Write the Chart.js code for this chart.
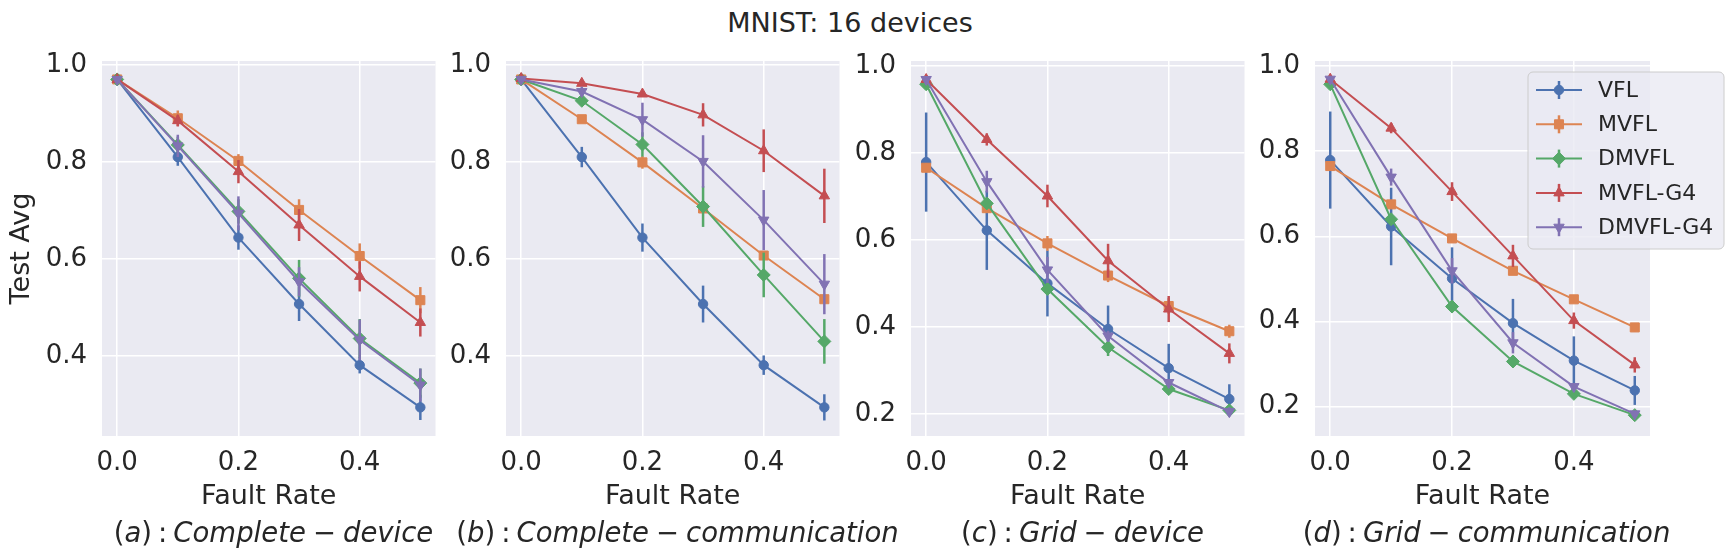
<!DOCTYPE html>
<html>
<head>
<meta charset="utf-8">
<script src="https://cdn.jsdelivr.net/npm/chart.js@4.4.0/dist/chart.umd.min.js"></script>
<style>
  body { margin: 0; background: #fff; width: 1733px; height: 559px; position: relative; overflow: hidden;
         font-family: 'DejaVu Sans'; color: #262626; }
  canvas { position: absolute; top: 0; }
  .txt { position: absolute; white-space: nowrap; transform: translateX(-50%); font-size: 27px; line-height: 27px; }
  .cap { font-size: 27.5px; }
  .txt i { font-style: italic; }
  .colon { margin: 0 6px 0 6px; }
  .minus { margin: 0 7px; }
</style>
</head>
<body>
<div class="txt" style="left:850px; top:9px">MNIST: 16 devices</div>

<script>
const faultRates = [0, 0.1, 0.2, 0.3, 0.4, 0.5];
const xTicks = [0, 0.2, 0.4];
const yTicksAB = [0.4, 0.6, 0.8, 1.0];
const yTicksCD = [0.2, 0.4, 0.6, 0.8, 1.0];
const seriesNames = ['VFL', 'MVFL', 'DMVFL', 'MVFL-G4', 'DMVFL-G4'];
const captionLetters = ['a', 'b', 'c', 'd'];
const captionTopology = ['Complete', 'Complete', 'Grid', 'Grid'];
const captionFault = ['device', 'communication', 'device', 'communication'];

// (a) Complete - device
const aVFL      = [0.970, 0.810, 0.644, 0.507, 0.381, 0.294];
const aVFLErr   = [0.005, 0.018, 0.025, 0.035, 0.017, 0.026];
const aMVFL     = [0.970, 0.890, 0.802, 0.701, 0.606, 0.515];
const aMVFLErr  = [0.004, 0.016, 0.014, 0.022, 0.026, 0.027];
const aDMVFL    = [0.970, 0.835, 0.698, 0.560, 0.436, 0.344];
const aDMVFLErr = [0.004, 0.017, 0.025, 0.038, 0.040, 0.030];
const aG4       = [0.970, 0.885, 0.780, 0.670, 0.564, 0.469];
const aG4Err    = [0.004, 0.012, 0.024, 0.033, 0.031, 0.029];
const aDG4      = [0.970, 0.833, 0.694, 0.553, 0.433, 0.340];
const aDG4Err   = [0.004, 0.023, 0.035, 0.030, 0.042, 0.034];

// (b) Complete - communication
const bVFL      = [0.970, 0.810, 0.644, 0.507, 0.381, 0.294];
const bVFLErr   = [0.005, 0.021, 0.029, 0.038, 0.020, 0.027];
const bMVFL     = [0.970, 0.888, 0.799, 0.704, 0.607, 0.517];
const bMVFLErr  = [0.004, 0.006, 0.013, 0.008, 0.008, 0.008];
const bDMVFL    = [0.970, 0.926, 0.836, 0.708, 0.567, 0.430];
const bDMVFLErr = [0.004, 0.008, 0.025, 0.042, 0.046, 0.046];
const bG4       = [0.972, 0.962, 0.940, 0.897, 0.823, 0.730];
const bG4Err    = [0.003, 0.004, 0.006, 0.024, 0.044, 0.056];
const bDG4      = [0.970, 0.945, 0.887, 0.801, 0.680, 0.548];
const bDG4Err   = [0.004, 0.010, 0.035, 0.054, 0.062, 0.062];

// (c) Grid - device
const cVFL      = [0.779, 0.622, 0.500, 0.395, 0.305, 0.234];
const cVFLErr   = [0.114, 0.091, 0.076, 0.054, 0.056, 0.034];
const cMVFL     = [0.766, 0.673, 0.592, 0.518, 0.448, 0.390];
const cMVFLErr  = [0.010, 0.010, 0.017, 0.015, 0.018, 0.015];
const cDMVFL    = [0.958, 0.684, 0.487, 0.353, 0.257, 0.208];
const cDMVFLErr = [0.006, 0.012, 0.012, 0.020, 0.008, 0.008];
const cG4       = [0.969, 0.831, 0.701, 0.552, 0.441, 0.339];
const cG4Err    = [0.006, 0.014, 0.026, 0.039, 0.030, 0.023];
const cDG4      = [0.969, 0.734, 0.531, 0.379, 0.272, 0.205];
const cDG4Err   = [0.006, 0.025, 0.030, 0.012, 0.008, 0.010];

// (d) Grid - communication
const dVFL      = [0.779, 0.623, 0.501, 0.396, 0.308, 0.238];
const dVFLErr   = [0.114, 0.091, 0.073, 0.057, 0.057, 0.034];
const dMVFL     = [0.765, 0.675, 0.595, 0.519, 0.452, 0.386];
const dMVFLErr  = [0.010, 0.008, 0.010, 0.008, 0.008, 0.010];
const dDMVFL    = [0.957, 0.640, 0.435, 0.306, 0.230, 0.180];
const dDMVFLErr = [0.006, 0.010, 0.008, 0.006, 0.006, 0.004];
const dG4       = [0.969, 0.854, 0.705, 0.554, 0.402, 0.298];
const dG4Err    = [0.006, 0.012, 0.022, 0.026, 0.019, 0.018];
const dDG4      = [0.969, 0.739, 0.519, 0.350, 0.247, 0.183];
const dDG4Err   = [0.006, 0.020, 0.030, 0.025, 0.008, 0.006];

// look
const colors = ['#4C72B0', '#DD8452', '#55A868', '#C44E52', '#8172B3'];
const markers = [
  { style: 'circle', r: 4.7, rot: 0 },
  { style: 'rect', r: 6.4, rot: 0 },
  { style: 'rectRot', r: 6.5, rot: 0 },
  { style: 'triangle', r: 6, rot: 0 },
  { style: 'triangle', r: 6, rot: 180 },
];
const ink = '#262626';
const W = 1733, H = 559;
const plotTop = 61, plotBottom = 436;
const plotLefts = [102, 506, 911, 1315];
const plotW = 335;

const panels = [
  { means: [aVFL, aMVFL, aDMVFL, aG4, aDG4], errs: [aVFLErr, aMVFLErr, aDMVFLErr, aG4Err, aDG4Err], yMin: 0.235, yMax: 1.008, yTicks: yTicksAB },
  { means: [bVFL, bMVFL, bDMVFL, bG4, bDG4], errs: [bVFLErr, bMVFLErr, bDMVFLErr, bG4Err, bDG4Err], yMin: 0.235, yMax: 1.008, yTicks: yTicksAB },
  { means: [cVFL, cMVFL, cDMVFL, cG4, cDG4], errs: [cVFLErr, cMVFLErr, cDMVFLErr, cG4Err, cDG4Err], yMin: 0.149, yMax: 1.0115, yTicks: yTicksCD },
  { means: [dVFL, dMVFL, dDMVFL, dG4, dDG4], errs: [dVFLErr, dMVFLErr, dDMVFLErr, dG4Err, dDG4Err], yMin: 0.131, yMax: 1.0117, yTicks: yTicksCD },
];

const panelBg = {
  id: 'panelBg',
  beforeDraw(chart) {
    const a = chart.chartArea, ctx = chart.ctx;
    ctx.save();
    ctx.fillStyle = '#EAEAF2';
    ctx.fillRect(a.left, a.top, a.right - a.left, a.bottom - a.top);
    ctx.restore();
  }
};

// error bars go under their own line but over earlier series
const errorBars = {
  id: 'errorBars',
  beforeDatasetDraw(chart, args) {
    const ds = chart.data.datasets[args.index];
    const ys = chart.scales.y, ctx = chart.ctx;
    ctx.save();
    ctx.strokeStyle = ds.borderColor;
    ctx.lineWidth = 2.5;
    ds.data.forEach((p, j) => {
      const x = args.meta.data[j].x;
      ctx.beginPath();
      ctx.moveTo(x, ys.getPixelForValue(p.y - ds.errs[j]));
      ctx.lineTo(x, ys.getPixelForValue(p.y + ds.errs[j]));
      ctx.stroke();
    });
    ctx.restore();
  }
};

function legendPlugin(offsetX) {
  return {
    id: 'legendBox',
    afterDraw(chart) {
      const ctx = chart.ctx;
      const bx = 1528 - offsetX, by = 72, bw = 196, bh = 177;
      ctx.save();
      ctx.beginPath();
      ctx.roundRect(bx, by, bw, bh, 5);
      ctx.fillStyle = 'rgba(234,234,242,0.8)';
      ctx.fill();
      ctx.strokeStyle = '#cccccc';
      ctx.lineWidth = 1;
      ctx.stroke();
      seriesNames.forEach((name, i) => {
        const y = 90 + i * 34.3;
        const x0 = 1536 - offsetX, x1 = 1582 - offsetX, xm = (x0 + x1) / 2;
        ctx.strokeStyle = colors[i];
        ctx.fillStyle = colors[i];
        ctx.lineWidth = 2;
        ctx.beginPath(); ctx.moveTo(x0, y); ctx.lineTo(x1, y); ctx.stroke();
        ctx.lineWidth = 2.5;
        ctx.beginPath(); ctx.moveTo(xm, y - 9); ctx.lineTo(xm, y + 9); ctx.stroke();
        ctx.lineWidth = 1;
        Chart.helpers.drawPoint(ctx, { pointStyle: markers[i].style, radius: markers[i].r, rotation: markers[i].rot, borderWidth: 1 }, xm, y);
        ctx.fillStyle = ink;
        ctx.font = '22px "DejaVu Sans"';
        ctx.textBaseline = 'middle';
        ctx.textAlign = 'left';
        ctx.fillText(name, 1598 - offsetX, y + 1);
      });
      ctx.restore();
    }
  };
}

Chart.defaults.font.family = "'DejaVu Sans'";
Chart.defaults.color = ink;

panels.forEach((p, k) => {
  const yW = k === 0 ? 102 : 62;
  const left = plotLefts[k] - yW;
  const rightPad = k === 3 ? W - (plotLefts[k] + plotW) : 6;
  const cw = yW + plotW + rightPad;

  const cv = document.createElement('canvas');
  cv.width = cw; cv.height = H;
  cv.style.left = left + 'px';
  cv.style.width = cw + 'px'; cv.style.height = H + 'px';
  document.body.appendChild(cv);

  const cap = document.createElement('div');
  cap.className = 'txt cap';
  cap.style.left = (plotLefts[k] + plotW / 2 + 4) + 'px';
  cap.style.top = '519px';
  cap.innerHTML = '(<i>' + captionLetters[k] + '</i>)<span class="colon">:</span><i>' + captionTopology[k] +
    '</i><span class="minus">\u2212</span><i>' + captionFault[k] + '</i>';
  document.body.appendChild(cap);

  const datasets = seriesNames.map((name, i) => ({
    label: name,
    data: faultRates.map((x, j) => ({ x: x, y: p.means[i][j] })),
    errs: p.errs[i],
    borderColor: colors[i],
    backgroundColor: colors[i],
    borderWidth: 2,
    pointStyle: markers[i].style,
    pointRadius: markers[i].r,
    pointRotation: markers[i].rot,
    pointBorderWidth: 1,
    pointBackgroundColor: colors[i],
    pointBorderColor: colors[i],
    tension: 0,
    order: seriesNames.length - i,
  }));

  const plugins = [panelBg, errorBars];
  if (k === 3) plugins.push(legendPlugin(left));

  new Chart(cv, {
    type: 'line',
    data: { datasets: datasets },
    plugins: plugins,
    options: {
      responsive: false,
      animation: false,
      devicePixelRatio: 1,
      events: [],
      layout: { padding: { top: plotTop, left: 0, right: rightPad, bottom: 0 } },
      plugins: { legend: { display: false }, tooltip: { enabled: false } },
      scales: {
        x: {
          type: 'linear', min: -0.025, max: 0.525,
          afterBuildTicks: s => { s.ticks = xTicks.map(v => ({ value: v })); },
          afterFit: s => { s.height = H - plotBottom; },
          grid: { color: '#ffffff', lineWidth: 1.5, drawTicks: false },
          border: { display: false },
          ticks: { padding: 12, font: { size: 26 }, color: ink, callback: v => v.toFixed(1) },
          title: { display: true, text: 'Fault Rate', color: ink, font: { size: 27 }, padding: { top: 0, bottom: 46 } }
        },
        y: {
          type: 'linear', min: p.yMin, max: p.yMax,
          afterBuildTicks: s => { s.ticks = p.yTicks.map(v => ({ value: v })); },
          afterFit: s => { s.width = yW; },
          grid: { color: '#ffffff', lineWidth: 1.5, drawTicks: false },
          border: { display: false },
          ticks: { padding: 15, font: { size: 26 }, color: ink, callback: v => v.toFixed(1) },
          title: { display: k === 0, text: 'Test Avg', color: ink, font: { size: 27 }, padding: { top: 6, bottom: 0 } }
        }
      }
    }
  });
});
</script>
</body>
</html>
